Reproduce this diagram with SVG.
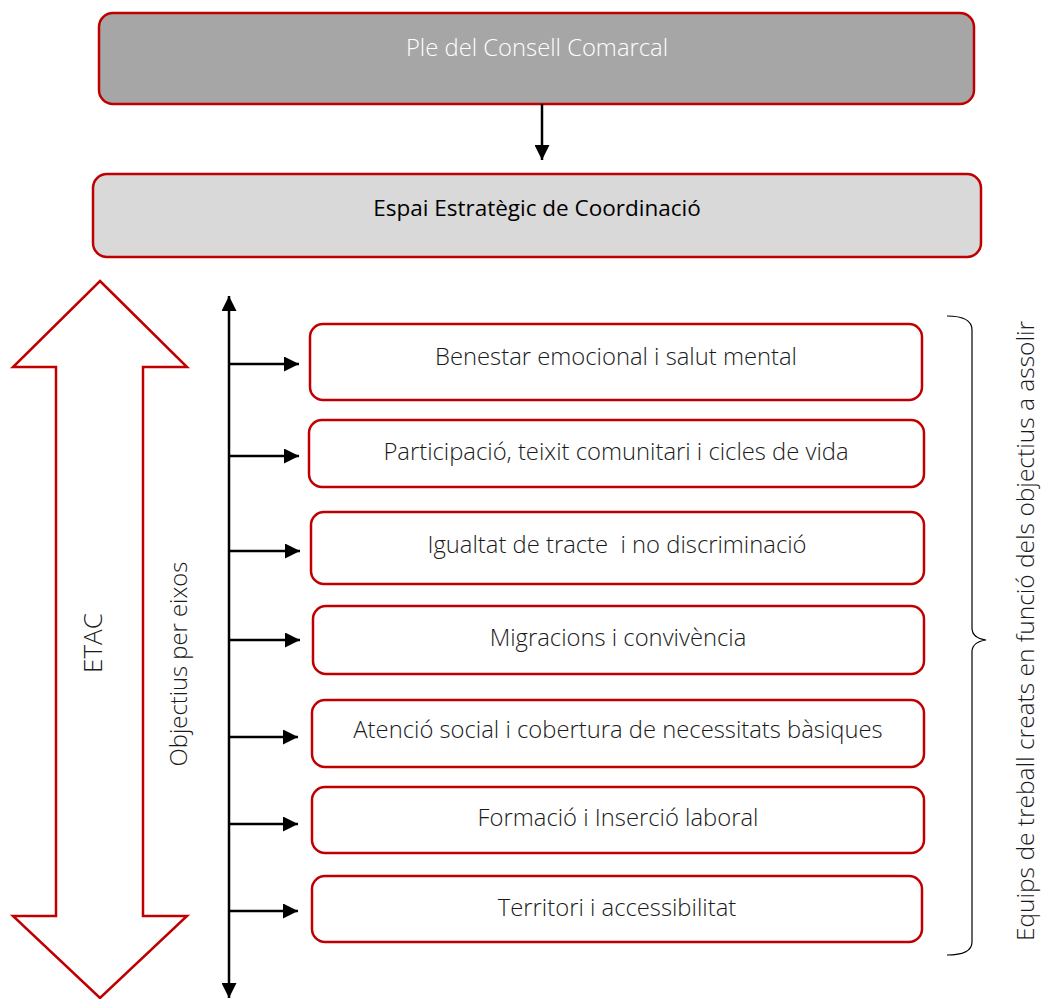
<svg xmlns="http://www.w3.org/2000/svg" width="1042" height="999" viewBox="0 0 1042 999">
<style>
.box{fill:#ffffff;stroke:#c00000;stroke-width:2.5}
.t{font-family:"Open Sans","Liberation Sans",sans-serif;font-weight:300;font-size:23.8px;fill:#1a1a1a;text-anchor:middle}
.ln{stroke:#000;stroke-width:2.5;fill:none}
</style>
<defs>
<marker id="ah" viewBox="0 0 10 10" refX="10" refY="5" markerWidth="6" markerHeight="6" markerUnits="strokeWidth" orient="auto-start-reverse">
<path d="M0,0 L10,5 L0,10 Z" fill="#000"/>
</marker>
</defs>
<g id="ple">
<rect x="99" y="13" width="875" height="91" rx="14" fill="#a6a6a6" stroke="#c00000" stroke-width="2.5"/>
<text class="t" x="537" y="56" style="fill:#ffffff">Ple del Consell Comarcal</text>
</g>
<g id="espai">
<rect x="93" y="174" width="888" height="83" rx="14" fill="#d9d9d9" stroke="#c00000" stroke-width="2.5"/>
<text class="t" x="537" y="216" style="font-weight:400;font-size:22.5px;fill:#000">Espai Estratègic de Coordinació</text>
</g>
<g id="etac">
<polygon points="100,281 187,367 143,367 143,916 187,916 100,998 13,916 56,916 56,367 13,367" fill="#fff" stroke="#c00000" stroke-width="2.5"/>
<text class="t" transform="translate(102,643) rotate(-90)" style="font-size:26px">ETAC</text>
</g>
<g id="objectius-label">
<text class="t" transform="translate(187,664) rotate(-90)">Objectius per eixos</text>
</g>
<g id="equips-label">
<text class="t" transform="translate(1034,631) rotate(-90)" style="font-size:24.5px">Equips de treball creats en funció dels objectius a assolir</text>
</g>
<g id="brace">
<path d="M947,316 Q972,316 972,330 L972,628 Q972,638 986,640 Q972,642 972,652 L972,942 Q972,955 947,955" fill="none" stroke="#000" stroke-width="1.2"/>
</g>
<g id="connectors">
<line class="ln" x1="542" y1="104" x2="542" y2="160" marker-end="url(#ah)"/>
<line class="ln" x1="229" y1="998" x2="229" y2="296" marker-start="url(#ah)" marker-end="url(#ah)"/>
<line class="ln" x1="229" y1="364" x2="299" y2="364" marker-end="url(#ah)"/>
<line class="ln" x1="229" y1="456" x2="299" y2="456" marker-end="url(#ah)"/>
<line class="ln" x1="229" y1="551" x2="300" y2="551" marker-end="url(#ah)"/>
<line class="ln" x1="229" y1="640" x2="300" y2="640" marker-end="url(#ah)"/>
<line class="ln" x1="229" y1="737" x2="298" y2="737" marker-end="url(#ah)"/>
<line class="ln" x1="229" y1="824" x2="298" y2="824" marker-end="url(#ah)"/>
<line class="ln" x1="229" y1="911" x2="298" y2="911" marker-end="url(#ah)"/>
</g>
<g id="n1"><rect class="box" x="310" y="324" width="612" height="76" rx="13"/><text class="t" x="616" y="365">Benestar emocional i salut mental</text></g>
<g id="n2"><rect class="box" x="309" y="420" width="615" height="67" rx="13"/><text class="t" x="616" y="460">Participació, teixit comunitari i cicles de vida</text></g>
<g id="n3"><rect class="box" x="311" y="512" width="613" height="72" rx="13"/><text class="t" x="617" y="553" xml:space="preserve">Igualtat de tracte  i no discriminació</text></g>
<g id="n4"><rect class="box" x="313" y="606" width="611" height="68" rx="13"/><text class="t" x="618" y="646">Migracions i convivència</text></g>
<g id="n5"><rect class="box" x="312" y="700" width="612" height="67" rx="13"/><text class="t" x="618" y="738">Atenció social i cobertura de necessitats bàsiques</text></g>
<g id="n6"><rect class="box" x="312" y="787" width="612" height="66" rx="13"/><text class="t" x="618" y="826">Formació i Inserció laboral</text></g>
<g id="n7"><rect class="box" x="312" y="876" width="610" height="66" rx="13"/><text class="t" x="617" y="916">Territori i accessibilitat</text></g>
</svg>
